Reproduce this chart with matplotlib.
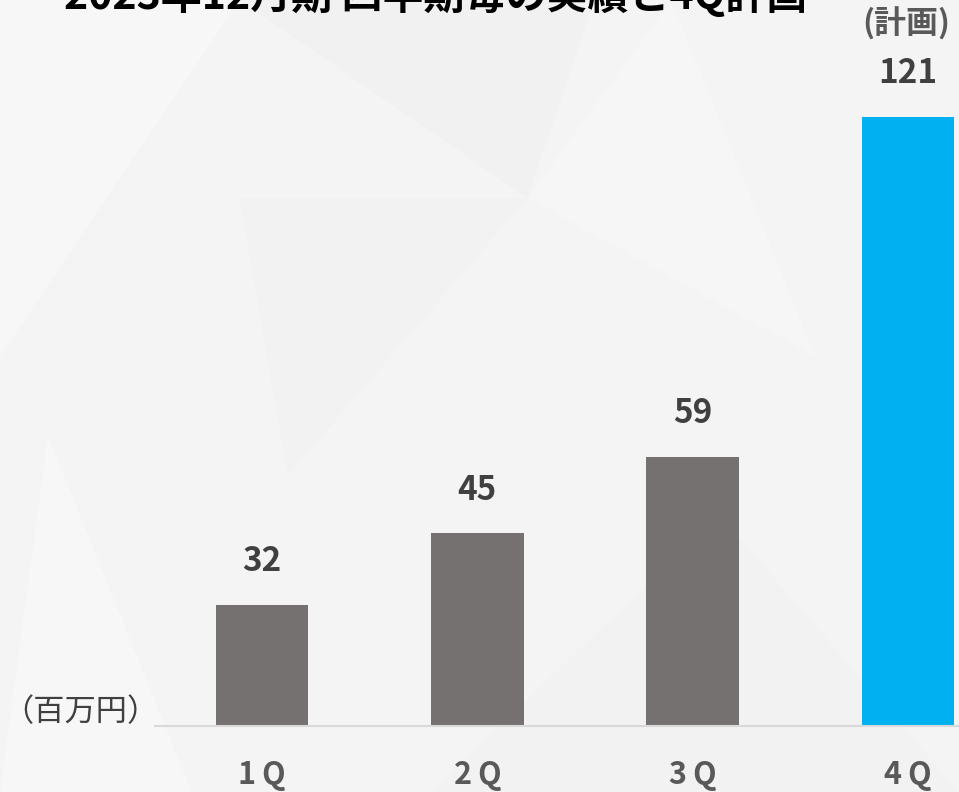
import matplotlib.pyplot as plt
from matplotlib.patches import Polygon

plt.rcParams['font.family'] = ['Noto Sans CJK JP', 'DejaVu Sans']

quarters = ["1\u2009Q", "2\u2009Q", "3\u2009Q", "4\u2009Q"]
values = [32, 45, 59, 121]
colors = ["#767171", "#767171", "#767171", "#00B0F0"]
title = "2023年12月期 四半期毎の実績と4Q計画"

W, H = 959, 792
fig = plt.figure(figsize=(W / 100, H / 100), dpi=100)
fig.patch.set_facecolor("#f4f4f4")

# faint polygon pattern in the background
bg = [
    ([(0, 0.55), (0.25, 1.0), (0.0, 1.0)], "#f7f7f7"),
    ([(0.25, 1.0), (0.55, 0.75), (0.62, 1.0)], "#f1f1f1"),
    ([(0.45, 0.0), (0.75, 0.35), (1.0, 0.0)], "#f2f2f2"),
    ([(0.0, 0.0), (0.2, 0.0), (0.05, 0.45)], "#f7f7f7"),
    ([(0.55, 0.75), (0.85, 0.55), (0.7, 1.0)], "#f6f6f6"),
    ([(0.3, 0.4), (0.55, 0.75), (0.25, 0.75)], "#f2f2f2"),
]
for pts, c in bg:
    fig.patches.append(Polygon(pts, closed=True, transform=fig.transFigure,
                               facecolor=c, edgecolor="none", zorder=-5))

left, right = 155 / W, 959 / W
bottom, top = 1 - 726 / H, 1.0
ax = fig.add_axes([left, bottom, right - left, top - bottom])
ax.set_zorder(1)
ax.set_facecolor("none")

x = list(range(len(values)))
bars = ax.bar(x, values, width=0.43, color=colors, zorder=2)

ax.set_xlim(-0.497, 3.237)
ax.set_ylim(9.85, 142.3)

for b, v in zip(bars, values):
    ax.annotate(str(v), (b.get_x() + b.get_width() / 2, v),
                xytext=(0, 31), textcoords="offset points",
                ha="center", va="center", fontsize=24, fontweight="bold",
                color="#404040")

for s in ["top", "right", "left"]:
    ax.spines[s].set_visible(False)
ax.spines["bottom"].set_color("#d9d9d9")
ax.spines["bottom"].set_linewidth(1.5)
ax.set_yticks([])
ax.set_xticks(x)
ax.set_xticklabels(quarters, fontsize=22, fontweight="bold", color="#595959")
ax.tick_params(axis="x", length=0, pad=24)

fig.text(436 / W, 1 - 9 / H, title, ha="center", va="baseline",
         fontsize=29.5, fontweight="bold", color="#000000")
fig.text(906 / W, 1 - 24 / H, "(計画)", ha="center", va="center",
         fontsize=23, fontweight="bold", color="#595959")
fig.text(159 / W, 1 - 712 / H, "（百万円）", ha="right", va="center",
         fontsize=22.5, color="#404040")

fig.savefig("out.png", dpi=100, facecolor=fig.get_facecolor())
